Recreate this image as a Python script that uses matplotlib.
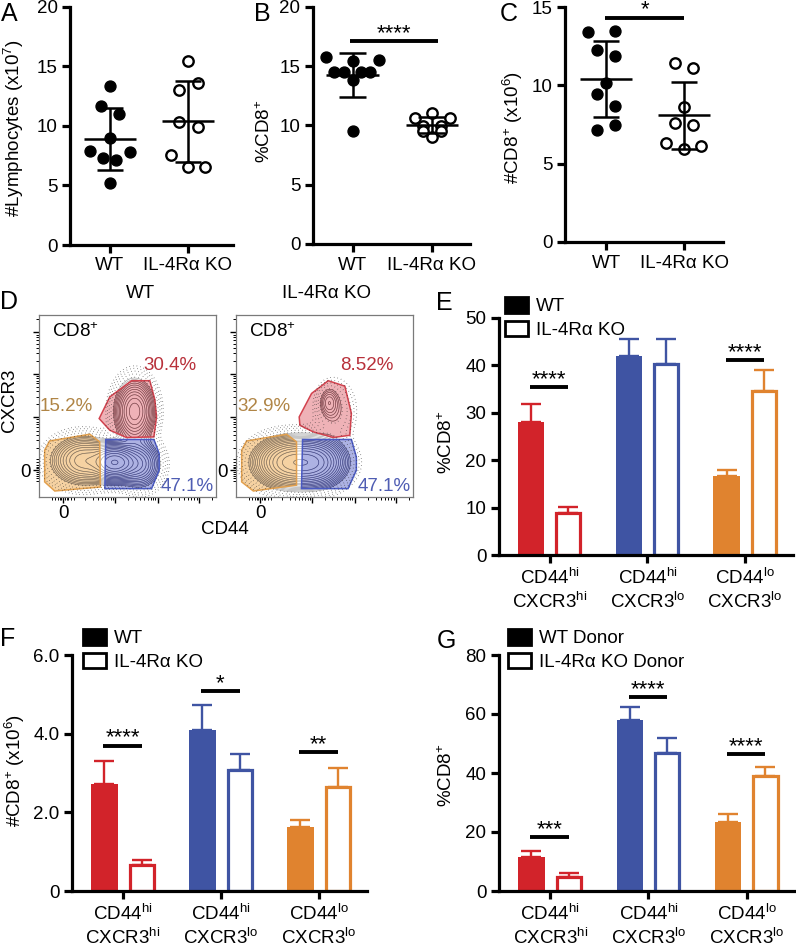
import numpy as np
import matplotlib.pyplot as plt
from matplotlib.patches import Polygon, Patch

plt.rcParams['font.family'] = ['Liberation Sans', 'DejaVu Sans']
plt.rcParams['mathtext.fontset'] = 'custom'
plt.rcParams['mathtext.rm'] = 'Liberation Sans'
plt.rcParams['mathtext.it'] = 'Liberation Sans:italic'
plt.rcParams['mathtext.bf'] = 'Liberation Sans:bold'

FS = 13.5

# ---------------- data: panels A-C (dot plots) ----------------
a_wt = [13.4, 11.66, 10.97, 9.0, 7.9, 7.78, 7.27, 7.13, 5.23]
a_ko = [15.5, 13.06, 13.6, 10.35, 9.93, 7.55, 6.57, 6.57]
b_wt = [15.79, 15.43, 15.51, 14.53, 14.53, 14.53, 14.53, 13.83, 9.57]
b_ko = [10.6, 11.02, 10.6, 9.96, 9.96, 9.5, 9.5, 9.06]
c_wt = [13.41, 13.47, 12.28, 11.86, 10.12, 9.42, 8.68, 7.15, 7.47]
c_ko = [11.44, 11.08, 8.64, 7.62, 7.47, 6.34, 5.92, 6.13]

# horizontal spread of the dots
a_wt_dx = [0.0, -0.107, 0.12, 0.0, -0.25, 0.256, -0.085, 0.085, 0.0]
a_ko_dx = [0.0, -0.107, 0.128, -0.107, 0.128, -0.21, 0.0, 0.22]
b_wt_dx = [-0.33, 0.0, 0.33, -0.23, -0.11, 0.11, 0.22, 0.0, 0.0]
b_ko_dx = [-0.21, 0.0, 0.23, -0.11, 0.11, -0.11, 0.11, 0.0]
c_wt_dx = [-0.23, 0.115, -0.11, 0.115, 0.0, -0.11, 0.115, -0.11, 0.115]
c_ko_dx = [-0.12, 0.115, 0.0, -0.12, 0.115, -0.23, 0.0, 0.22]

genotypes = ['WT', 'IL-4R\u03b1 KO']

# ---------------- data: panel D (flow gates, axes fraction) ----------------
wt_red_gate = [(0.34, 0.431), (0.40, 0.55), (0.523, 0.639), (0.626, 0.639), (0.655, 0.532),
               (0.664, 0.44), (0.649, 0.33), (0.494, 0.327), (0.40, 0.367)]
wt_orange_gate = [(0.032, 0.257), (0.06, 0.308), (0.287, 0.345), (0.343, 0.303), (0.347, 0.055),
                  (0.089, 0.033), (0.032, 0.083)]
wt_blue_gate = [(0.377, 0.316), (0.649, 0.316), (0.679, 0.239), (0.679, 0.147), (0.636, 0.046),
                (0.372, 0.046)]
ko_red_gate = [(0.357, 0.44), (0.427, 0.569), (0.521, 0.639), (0.615, 0.609), (0.652, 0.459),
               (0.643, 0.339), (0.549, 0.327), (0.436, 0.358), (0.361, 0.394)]
ko_orange_gate = [(0.032, 0.257), (0.06, 0.308), (0.286, 0.345), (0.342, 0.303), (0.342, 0.065),
                  (0.098, 0.033), (0.032, 0.083)]
ko_blue_gate = [(0.376, 0.316), (0.652, 0.316), (0.68, 0.22), (0.68, 0.147), (0.633, 0.046),
                (0.37, 0.046)]
wt_pct = ['30.4%', '15.2%', '47.1%']
ko_pct = ['8.52%', '32.9%', '47.1%']
# populations (cx, cy, sx, sy, weight) used for the contour lines
wt_pops = [(0.43, 0.19, 0.065, 0.05, 1.0), (0.25, 0.20, 0.09, 0.065, 0.4),
           (0.54, 0.47, 0.055, 0.085, 0.5), (0.57, 0.18, 0.06, 0.065, 0.3)]
ko_pops = [(0.30, 0.19, 0.095, 0.065, 1.0), (0.45, 0.19, 0.085, 0.065, 0.8),
           (0.525, 0.52, 0.03, 0.045, 0.13), (0.56, 0.47, 0.06, 0.09, 0.06)]
flow_x_major = [0.136, 0.428, 0.674, 0.904]
flow_y_major = [0.147, 0.437, 0.675, 0.905]

# ---------------- data: panels E-G (bars) ----------------
subsets = [r'CD44$^{\mathrm{hi}}$' + '\n' + r'CXCR3$^{\mathrm{hi}}$',
           r'CD44$^{\mathrm{hi}}$' + '\n' + r'CXCR3$^{\mathrm{lo}}$',
           r'CD44$^{\mathrm{lo}}$' + '\n' + r'CXCR3$^{\mathrm{lo}}$']
subset_colors = ['#d2232a', '#3f54a3', '#e0832f']

e_wt = [27.96, 42.04, 16.76]
e_wt_top = [31.9, 45.56, 17.96]
e_ko = [8.8, 40.28, 34.65]
e_ko_top = [10.07, 45.63, 38.94]
e_sig_group = [0, 2]
e_sig_y = [35.4, 41.06]
e_sig_text = ['****', '****']

f_wt = [2.72, 4.09, 1.62]
f_wt_top = [3.31, 4.74, 1.80]
f_ko = [0.66, 3.08, 2.65]
f_ko_top = [0.80, 3.48, 3.12]
f_sig_group = [0, 1, 2]
f_sig_y = [3.69, 5.08, 3.53]
f_sig_text = ['****', '*', '**']

g_wt = [11.41, 57.97, 23.5]
g_wt_top = [13.67, 62.5, 26.0]
g_ko = [4.86, 46.67, 38.98]
g_ko_top = [5.99, 51.75, 41.9]
g_sig_group = [0, 1, 2]
g_sig_y = [18.2, 65.65, 46.4]
g_sig_text = ['***', '****', '****']

W, H = 796, 949
fig = plt.figure(figsize=(W / 100, H / 100), dpi=100)


def px_axes(x0, y0, x1, y1):
    return fig.add_axes([x0 / W, 1 - y1 / H, (x1 - x0) / W, (y1 - y0) / H])


def fig_text(x, y, s, **kw):
    kw.setdefault('fontsize', FS)
    fig.text(x / W, 1 - y / H, s, **kw)


def style_axes(ax):
    for side in ['top', 'right']:
        ax.spines[side].set_visible(False)
    for side in ['left', 'bottom']:
        ax.spines[side].set_linewidth(2.3)
    ax.tick_params(direction='out', length=6, width=2.3, labelsize=FS, pad=3)


def dot_panel(ax, wt, ko, wt_dx, ko_dx, ymax, yticks, xlim):
    ax.scatter(np.array(wt_dx), wt, s=62, color='black', zorder=3, clip_on=False)
    ax.scatter(1 + np.array(ko_dx), ko, s=56, facecolors='white', edgecolors='black',
               linewidths=1.7, zorder=3, clip_on=False)
    for x, vals in [(0, wt), (1, ko)]:
        m = np.mean(vals)
        sd = np.std(vals, ddof=1)
        ax.hlines(m, x - 0.33, x + 0.33, color='black', lw=1.8, zorder=4)
        ax.vlines(x, m - sd, m + sd, color='black', lw=1.8, zorder=4)
        ax.hlines([m - sd, m + sd], x - 0.17, x + 0.17, color='black', lw=1.8, zorder=4)
    ax.set_ylim(0, ymax)
    ax.set_xlim(*xlim)
    ax.set_yticks(yticks)
    ax.set_xticks([0, 1])
    ax.set_xticklabels(genotypes)
    style_axes(ax)


def sig_bar(ax, x0, x1, y, text, fs=16):
    ax.hlines(y, x0, x1, color='black', lw=2.8, zorder=5)
    ax.annotate(text, ((x0 + x1) / 2, y), xytext=(0, -2), textcoords='offset points',
                ha='center', va='bottom', fontsize=fs)


# ---------------- A ----------------
axA = px_axes(70, 7, 233, 245)
dot_panel(axA, a_wt, a_ko, a_wt_dx, a_ko_dx, 20, [0, 5, 10, 15, 20], (-0.51, 1.58))
fig_text(14, 128, r'#Lymphocytes (x10$^{7}$)', rotation=90, ha='center', va='center')
fig_text(1, 14, 'A', fontsize=18, va='center')

# ---------------- B ----------------
axB = px_axes(313, 7, 470, 244)
dot_panel(axB, b_wt, b_ko, b_wt_dx, b_ko_dx, 20, [0, 5, 10, 15, 20], (-0.5, 1.48))
sig_bar(axB, -0.03, 1.08, 17.1, '****')
fig_text(265, 131, r'%CD8$^{+}$', rotation=90, ha='center', va='center')
fig_text(254, 14, 'B', fontsize=18, va='center')

# ---------------- C ----------------
axC = px_axes(565, 7, 723, 242)
dot_panel(axC, c_wt, c_ko, c_wt_dx, c_ko_dx, 15, [0, 5, 10, 15], (-0.526, 1.5))
sig_bar(axC, -0.01, 1.0, 14.32, '*')
fig_text(513, 127, r'#CD8$^{+}$ (x10$^{6}$)', rotation=90, ha='center', va='center')
fig_text(500, 14, 'C', fontsize=18, va='center')

# ---------------- D ----------------
gx, gy = np.meshgrid(np.linspace(0, 1, 300), np.linspace(0, 1, 300))


def density(pops):
    z = np.zeros_like(gx)
    for cx, cy, sx, sy, w in pops:
        z += w * np.exp(-((gx - cx) ** 2 / (2 * sx ** 2) + (gy - cy) ** 2 / (2 * sy ** 2)))
    return z


def flow_panel(ax, red, orange, blue, pops, pct):
    gates = [(orange, '#f6cd98', '#e2a04e', '#8c7050'),
             (blue, '#a4aae0', '#4a5ac4', '#363c90'),
             (red, '#eeaab0', '#d2424e', '#8a3c44')]
    z = density(pops)
    levels = z.max() * np.geomspace(0.045, 0.97, 15)
    halo = z.max() * np.geomspace(0.006, 0.04, 5)
    ax.contour(gx, gy, z, levels=halo, colors='#2a2a2a', linewidths=0.7,
               linestyles=[(0, (0.5, 3.2))], zorder=5)
    ax.contour(gx, gy, z, levels=levels, colors='#9a9a9a', linewidths=0.4, zorder=2)
    for verts, fill, edge, line in gates:
        ax.add_patch(Polygon(verts, closed=True, facecolor=fill, edgecolor='none', alpha=0.9, zorder=1))
        clip = Polygon(verts, closed=True, transform=ax.transData, facecolor='none', edgecolor='none')
        ax.add_patch(clip)
        cs = ax.contour(gx, gy, z, levels=levels, colors=line, linewidths=0.45, zorder=3)
        cs.set_clip_path(clip)
        ax.add_patch(Polygon(verts, closed=True, facecolor='none', edgecolor=edge, lw=1.1, zorder=4))
    ax.set_xlim(0, 1)
    ax.set_ylim(0, 1)
    for s in ax.spines.values():
        s.set_linewidth(0.9)
        s.set_color('#7a7a7a')
    ax.text(0.075, 0.908, r'CD8$^{+}$', transform=ax.transAxes, fontsize=FS, va='center')
    ax.text(0.74, 0.725, pct[0], transform=ax.transAxes, fontsize=FS, va='center', ha='center', color='#b8303a')
    ax.text(0.155, 0.495, pct[1], transform=ax.transAxes, fontsize=FS, va='center', ha='center', color='#b08546')
    ax.text(0.835, 0.055, pct[2], transform=ax.transAxes, fontsize=FS, va='center', ha='center', color='#4f5db3')

    def minor(major):
        d = 0.24
        out = []
        starts = [major[1] - d] + list(major[1:])
        for a in starts:
            out += [a + d * np.log10(k) for k in range(2, 10)]
        out = [p for p in out if p < 0.99 and p not in major]
        out += [major[0] + o for o in (-0.06, -0.045, -0.03, -0.02, -0.01, 0.01, 0.02, 0.03, 0.045, 0.06)]
        return out

    ax.set_xticks(flow_x_major)
    ax.set_xticklabels(['0', '', '', ''])
    ax.set_yticks(flow_y_major)
    ax.set_yticklabels(['0', '', '', ''])
    ax.set_xticks(minor(flow_x_major), minor=True)
    ax.set_yticks(minor(flow_y_major), minor=True)
    ax.tick_params(which='major', direction='out', length=4, width=1.0, labelsize=FS, pad=2)
    ax.tick_params(which='minor', direction='out', length=2, width=0.7)


axD1 = px_axes(39, 315, 216, 497)
flow_panel(axD1, wt_red_gate, wt_orange_gate, wt_blue_gate, wt_pops, wt_pct)
axD2 = px_axes(236, 315, 413, 497)
flow_panel(axD2, ko_red_gate, ko_orange_gate, ko_blue_gate, ko_pops, ko_pct)
fig_text(140, 294, 'WT', ha='center', va='center')
fig_text(326, 294, 'IL-4R\u03b1 KO', ha='center', va='center')
fig_text(10, 400, 'CXCR3', rotation=90, ha='center', va='center')
fig_text(225, 530, 'CD44', ha='center', va='center')
fig_text(0, 302, 'D', fontsize=18, va='center')


# ---------------- E-G ----------------
def bar_panel(ax, wt, wt_top, ko, ko_top, sig_g, sig_y, sig_t, ymax, yticks, yticklabels):
    x = np.arange(len(subsets))
    for i, c in enumerate(subset_colors):
        ax.bar(x[i] - 0.19, wt[i], 0.27, color=c, edgecolor=c, lw=0, zorder=2)
        ax.bar(x[i] + 0.19, ko[i], 0.245, facecolor='white', edgecolor=c, lw=2.3, zorder=2)
        ax.errorbar([x[i] - 0.19, x[i] + 0.19], [wt[i], ko[i]],
                    yerr=[[0, 0], [wt_top[i] - wt[i], ko_top[i] - ko[i]]],
                    fmt='none', ecolor=c, elinewidth=1.7, capsize=7, capthick=1.7, zorder=1)
    for g, y, t in zip(sig_g, sig_y, sig_t):
        sig_bar(ax, g - 0.2, g + 0.19, y, t)
    ax.set_xlim(-0.52, 2.49)
    ax.set_ylim(0, ymax)
    ax.set_yticks(yticks)
    ax.set_yticklabels(yticklabels)
    ax.set_xticks(x)
    ax.set_xticklabels(subsets, linespacing=1.25)
    style_axes(ax)


def legend_at(ax, x, y, labels):
    handles = [Patch(facecolor='black', edgecolor='black', lw=2.0),
               Patch(facecolor='white', edgecolor='black', lw=2.0)]
    ax.legend(handles, labels, loc='upper left', bbox_to_anchor=(x / W, 1 - y / H),
              bbox_transform=fig.transFigure, frameon=False, fontsize=FS, borderpad=0,
              borderaxespad=0, handlelength=1.2, handleheight=0.9, handletextpad=0.45,
              labelspacing=0.3)


axE = px_axes(499, 318, 793, 555)
bar_panel(axE, e_wt, e_wt_top, e_ko, e_ko_top, e_sig_group, e_sig_y, e_sig_text,
          50, [0, 10, 20, 30, 40, 50], ['0', '10', '20', '30', '40', '50'])
legend_at(axE, 505, 297, ['WT', 'IL-4R\u03b1 KO'])
fig_text(447, 442, r'%CD8$^{+}$', rotation=90, ha='center', va='center')
fig_text(436, 303, 'E', fontsize=18, va='center')

axF = px_axes(72, 655, 367, 891)
bar_panel(axF, f_wt, f_wt_top, f_ko, f_ko_top, f_sig_group, f_sig_y, f_sig_text,
          6, [0, 2, 4, 6], ['0', '2.0', '4.0', '6.0'])
legend_at(axF, 83, 629, ['WT', 'IL-4R\u03b1 KO'])
fig_text(15, 770, r'#CD8$^{+}$ (x10$^{6}$)', rotation=90, ha='center', va='center')
fig_text(0, 639, 'F', fontsize=18, va='center')

axG = px_axes(499, 655, 795, 891)
bar_panel(axG, g_wt, g_wt_top, g_ko, g_ko_top, g_sig_group, g_sig_y, g_sig_text,
          80, [0, 20, 40, 60, 80], ['0', '20', '40', '60', '80'])
legend_at(axG, 508, 629, ['WT Donor', 'IL-4R\u03b1 KO Donor'])
fig_text(447, 775, r'%CD8$^{+}$', rotation=90, ha='center', va='center')
fig_text(437, 641, 'G', fontsize=18, va='center')

fig.savefig('out.png', dpi=100)
